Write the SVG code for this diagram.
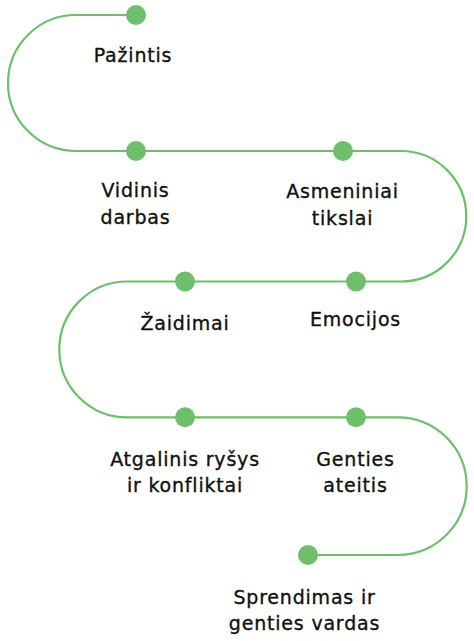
<svg xmlns="http://www.w3.org/2000/svg" width="474" height="641" viewBox="0 0 474 641">
  <style>
    .dot { fill: #6dbf6b; }
    .line { fill: none; stroke: #6dbf6b; stroke-width: 2.2; }
    .lbl { font-family: "DejaVu Sans", "Liberation Sans", sans-serif; font-size: 19px; letter-spacing: 0.8px; fill: #111111; stroke: #111111; stroke-width: 0.35px; text-anchor: middle; }
  </style>
  <rect width="474" height="641" fill="#ffffff"/>
  <g id="connectors">
    <path class="line" d="M136,15 H76 A68,68 0 0 0 76,151 H401 A65.25,65.25 0 0 1 401,281.5 H127.2 A67.9,67.9 0 0 0 127.2,417.3 H397.85 A68.85,68.85 0 0 1 397.85,555 H308"/>
  </g>
  <g id="node-pazintis">
    <circle class="dot" cx="136" cy="15" r="10"/>
    <text class="lbl" x="133" y="62">Pažintis</text>
  </g>
  <g id="node-vidinis-darbas">
    <circle class="dot" cx="136" cy="151" r="10"/>
    <text class="lbl" x="135.5" y="197">Vidinis</text>
    <text class="lbl" x="135.5" y="223.5">darbas</text>
  </g>
  <g id="node-asmeniniai-tikslai">
    <circle class="dot" cx="343" cy="151" r="10"/>
    <text class="lbl" x="342.5" y="198">Asmeniniai</text>
    <text class="lbl" x="342.5" y="224.5">tikslai</text>
  </g>
  <g id="node-emocijos">
    <circle class="dot" cx="356" cy="281.5" r="10"/>
    <text class="lbl" x="355.5" y="325.5">Emocijos</text>
  </g>
  <g id="node-zaidimai">
    <circle class="dot" cx="185" cy="281.5" r="10"/>
    <text class="lbl" x="185" y="330">Žaidimai</text>
  </g>
  <g id="node-atgalinis-rysys">
    <circle class="dot" cx="185" cy="417.3" r="10"/>
    <text class="lbl" x="185" y="466">Atgalinis ryšys</text>
    <text class="lbl" x="185" y="492">ir konfliktai</text>
  </g>
  <g id="node-genties-ateitis">
    <circle class="dot" cx="356" cy="417.3" r="10"/>
    <text class="lbl" x="355.5" y="466">Genties</text>
    <text class="lbl" x="355.5" y="492">ateitis</text>
  </g>
  <g id="node-sprendimas">
    <circle class="dot" cx="308" cy="555" r="10"/>
    <text class="lbl" x="304.5" y="603.5">Sprendimas ir</text>
    <text class="lbl" x="304.5" y="629.5">genties vardas</text>
  </g>
</svg>
